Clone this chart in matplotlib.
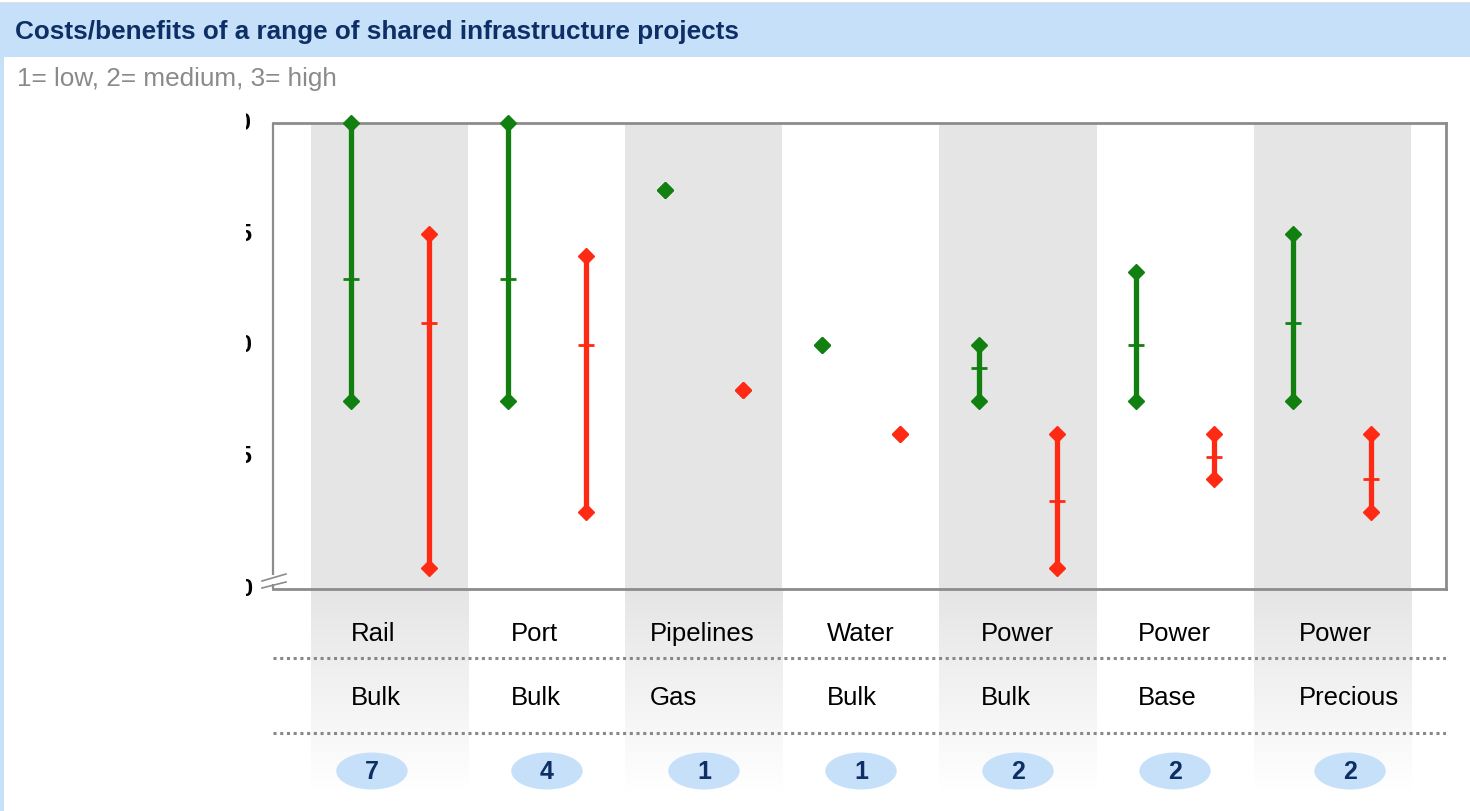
import matplotlib
matplotlib.use("Agg")
import matplotlib.pyplot as plt
import numpy as np
from matplotlib.patches import Ellipse, Rectangle
from matplotlib.transforms import Bbox, TransformedBbox
from matplotlib.colors import LinearSegmentedColormap

plt.rcParams['font.family'] = ['Liberation Sans', 'DejaVu Sans']

# ---------------- data ----------------
title = "Costs/benefits of a range of shared infrastructure projects"
subtitle = "1= low, 2= medium, 3= high"
sectors = ["Rail", "Port", "Pipelines", "Water", "Power", "Power", "Power"]
commodities = ["Bulk", "Bulk", "Gas", "Bulk", "Bulk", "Base", "Precious"]
counts = ["7", "4", "1", "1", "2", "2", "2"]

benefit_low = [1.75, 1.75, 2.70, 2.00, 1.75, 1.75, 1.75]
benefit_mid = [2.30, 2.30, 2.70, 2.00, 1.90, 2.00, 2.10]
benefit_high = [3.00, 3.00, 2.70, 2.00, 2.00, 2.33, 2.50]

cost_low = [1.00, 1.25, 1.80, 1.60, 1.00, 1.40, 1.25]
cost_mid = [2.10, 2.00, 1.80, 1.60, 1.30, 1.50, 1.40]
cost_high = [2.50, 2.40, 1.80, 1.60, 1.60, 1.60, 1.60]

ytick_vals = [0.905, 1.5, 2.0, 2.5, 3.0]
ytick_labels = ["0", "1.5", "2.0", "2.5", "3.0"]

# ---------------- layout / style ----------------
label_offsets = [-0.25, -0.23, -0.345, -0.22, -0.235, -0.235, -0.21]
ellipse_offsets = [-0.115, 0, 0, 0, 0, 0, 0.115]

W, H = 1470, 811
GREEN = "#118011"
RED = "#ff2a14"
BAND = "#e5e5e5"
HEAD = "#c6e0fa"
NAVY = "#0d2f66"
SPINE = "#8c8c8c"

fig = plt.figure(figsize=(W / 100, H / 100), dpi=100)
fig.patch.set_facecolor("white")

def fx(px):
    return px / W

def fy(py):
    return 1 - py / H

# header band + left border
fig.patches.append(Rectangle((0, fy(57)), 1, fy(3) - fy(57), transform=fig.transFigure,
                             facecolor=HEAD, edgecolor="none", zorder=0))
fig.patches.append(Rectangle((0, fy(3)), 1, fy(2) - fy(3), transform=fig.transFigure,
                             facecolor="#e0e0e0", edgecolor="none", zorder=0))
fig.patches.append(Rectangle((0, 0), fx(4), fy(57), transform=fig.transFigure,
                             facecolor=HEAD, edgecolor="none", zorder=0))
fig.text(fx(15), fy(39), title, fontsize=18.8, fontweight="bold", color=NAVY,
         ha="left", va="baseline")
fig.text(fx(17), fy(86), subtitle, fontsize=18.8, color="#8a8a8a", ha="left", va="baseline")

n = len(sectors)
x = np.arange(n)
xlim = (-0.745, 6.726)

# main axes
ax_l, ax_r, ax_t, ax_b = 273, 1446, 123, 589
ax = fig.add_axes([fx(ax_l), fy(ax_b), fx(ax_r - ax_l), fy(ax_t) - fy(ax_b)])
ax.set_xlim(*xlim)
ax.set_ylim(0.905, 3.0)
ax.set_xticks([])
ax.set_yticks([])
for s in ["top", "right", "bottom", "left"]:
    ax.spines[s].set_color(SPINE)
    ax.spines[s].set_linewidth(2)
ax.spines["left"].set_visible(False)

for i in range(n):
    if i % 2 == 0:
        ax.axvspan(i - 0.5, i + 0.5, color=BAND, lw=0, zorder=0)

# left spine with break
def axpt(px, py):
    return ((px - ax_l) / (ax_r - ax_l), (ax_b - py) / (ax_b - ax_t))

for seg in [[(273, 123), (273, 575)], [(273, 584), (273, 589)]]:
    (x0, y0), (x1, y1) = axpt(*seg[0]), axpt(*seg[1])
    ax.plot([x0, x1], [y0, y1], transform=ax.transAxes, color=SPINE, lw=1.6,
            clip_on=False, solid_capstyle="butt")
for seg in [[(262, 581), (286, 574)], [(262, 588), (286, 582)]]:
    (x0, y0), (x1, y1) = axpt(*seg[0]), axpt(*seg[1])
    ax.plot([x0, x1], [y0, y1], transform=ax.transAxes, color=SPINE, lw=1.2,
            clip_on=False)

# clipped y tick labels (only their tail shows, as in the reference)
clip = TransformedBbox(Bbox([[fx(245.5), 0], [fx(262), 1]]), fig.transFigure)
for v, lab in zip(ytick_vals, ytick_labels):
    t = ax.text(-0.018, v, lab, transform=ax.get_yaxis_transform(), ha="right",
                va="center", fontsize=17, fontweight="bold", color="black")
    t.set_clip_box(clip)
    t.set_clip_on(True)

# range bars
off = 0.25
for i in range(n):
    for xs, lo, mid, hi, c in [(x[i] - off, benefit_low[i], benefit_mid[i], benefit_high[i], GREEN),
                               (x[i] + off, cost_low[i], cost_mid[i], cost_high[i], RED)]:
        if hi > lo:
            ax.plot([xs, xs], [lo, hi], color=c, lw=3.8, zorder=3, solid_capstyle="butt")
            ax.plot([xs], [mid], marker="_", ms=11, mew=2, color=c, zorder=4)
        ax.plot([xs, xs], [lo, hi], ls="none", marker="D", ms=8.2, color=c, mec=c,
                zorder=5, clip_on=False)

# label area below the axes
lb_t, lb_b = 589, 790
ax2 = fig.add_axes([fx(ax_l), fy(lb_b), fx(ax_r - ax_l), fy(lb_t) - fy(lb_b)])
ax2.axis("off")
ax2.set_zorder(-1)
ax.set_zorder(1)
ax.patch.set_alpha(0)

grad = np.linspace(0, 1, 256).reshape(-1, 1)
cmap = LinearSegmentedColormap.from_list("g", [BAND, "#ffffff"])
for i in range(n):
    if i % 2 == 0:
        ax2.imshow(grad, extent=(i - 0.5, i + 0.5, lb_b - lb_t, 0), cmap=cmap,
                   aspect="auto", zorder=0, origin="upper")
ax2.set_xlim(*xlim)
ax2.set_ylim(lb_b - lb_t, 0)

for yy in [658 - lb_t, 733 - lb_t]:
    ax2.plot(list(xlim), [yy, yy], color="#888888", lw=2.2, ls=(0, (1, 1.2)), zorder=2)

for i in range(n):
    ax2.text(x[i] + label_offsets[i], 641 - lb_t, sectors[i], fontsize=18.5, ha="left",
             va="baseline", color="black", zorder=3)
    ax2.text(x[i] + label_offsets[i], 705 - lb_t, commodities[i], fontsize=18.5, ha="left",
             va="baseline", color="black", zorder=3)
    ex = x[i] + ellipse_offsets[i]
    ax2.add_patch(Ellipse((ex, 771 - lb_t), 0.455, 37, facecolor=HEAD,
                          edgecolor="none", zorder=3))
    ax2.text(ex, 779 - lb_t, counts[i], fontsize=18, fontweight="bold",
             ha="center", va="baseline", color=NAVY, zorder=4)

fig.savefig("out.png", dpi=100)
